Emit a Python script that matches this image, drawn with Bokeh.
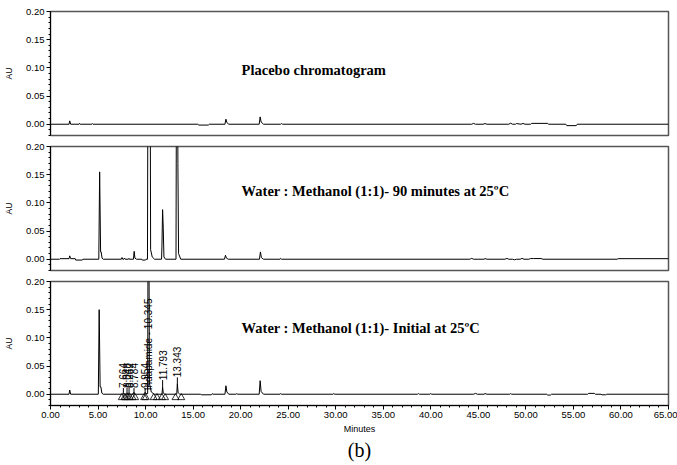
import numpy as np
from bokeh.plotting import figure
from bokeh.layouts import column
from bokeh.models import Range1d, Title, SingleIntervalTicker, NumeralTickFormatter
from bokeh.core.properties import value
from bokeh.embed import file_html
from bokeh.resources import INLINE

# ---------------- data (minutes, AU) ----------------
placebo_min = [0.0, 1.95, 2.02, 2.12, 3.00, 3.05, 3.12, 4.35, 4.40, 4.47,
               15.50, 15.60, 16.60, 16.70, 18.35, 18.45, 18.55, 18.75,
               21.95, 22.05, 22.15, 22.40, 24.20, 24.30, 24.40,
               44.30, 44.50, 44.70, 45.50, 45.70, 45.90, 48.20, 48.40, 48.60,
               48.90, 49.00, 49.50, 49.70, 49.90, 50.50, 50.60, 52.30, 52.40,
               54.20, 54.30, 55.30, 55.40, 65.0]
placebo_au = [0, 0, 0.006, 0, 0, 0.0015, 0, 0, 0.0012, 0,
              0, -0.0015, -0.0015, 0, 0, 0.009, 0.003, 0,
              0, 0.013, 0.004, 0, 0, 0.0012, 0,
              0, 0.0015, 0, 0, 0.0012, 0, 0, 0.0018, 0,
              0, 0.0012, 0, 0.0015, 0, 0, 0.0015, 0.0015, 0,
              0, -0.0025, -0.0025, 0, 0]

mw90_min = [0.0, 0.95, 1.00, 1.95, 2.02, 2.12, 2.60, 2.65, 3.35, 3.40,
            5.08, 5.17, 5.27, 5.33, 5.42, 5.55,
            7.45, 7.52, 7.60, 7.72, 7.78, 7.85, 8.20, 8.25, 8.30,
            8.72, 8.80, 8.88, 9.05, 9.60, 9.65, 10.00, 10.05,
            10.20, 10.28, 10.45, 10.53, 10.70, 10.95,
            11.68, 11.72, 11.79, 11.86, 11.93, 12.10,
            13.20, 13.27, 13.33, 13.40, 13.47, 13.70,
            18.30, 18.40, 18.50, 18.70, 21.98, 22.08, 22.18, 22.40, 24.15, 24.20, 24.30,
            44.10, 44.30, 44.50, 45.60, 45.70, 45.90, 47.80, 48.00, 48.20,
            48.60, 48.80, 49.00, 49.40, 49.60, 49.80, 50.30, 50.50, 50.80, 51.60, 51.80,
            59.60, 59.70, 65.0]
mw90_au = [0, 0, 0.001, 0.001, 0.006, 0.001, 0.001, -0.0015, -0.0015, 0,
           0, 0.155, 0.013, 0.013, 0.002, 0,
           0, 0.003, 0, 0, 0.002, 0, 0, 0.0015, 0,
           0, 0.014, 0.002, 0, 0, -0.0015, -0.0015, 0,
           0, 0.6, 0.6, 0.017, 0.004, 0,
           0, 0.022, 0.088, 0.055, 0.004, 0,
           0, 0.5, 0.5, 0.17, 0.01, 0,
           0, 0.007, 0.002, 0, 0, 0.013, 0.003, 0, 0, 0.0015, 0,
           0, 0.0015, 0, 0, 0.0012, 0, 0, 0.0015, 0,
           0, -0.001, 0, 0, 0.0015, 0, 0, 0.0012, 0.0012, 0.0012, 0,
           0, 0.001, 0.001]

initial_min = [0.0, 1.95, 2.02, 2.12,
               5.03, 5.12, 5.22, 5.30, 5.40, 5.55,
               7.60, 7.66, 7.72, 8.00, 8.05, 8.10, 8.21, 8.26, 8.31, 8.73, 8.78, 8.84, 9.90, 9.95, 10.00,
               10.22, 10.30, 10.40, 10.60, 10.90,
               11.73, 11.79, 11.86, 12.00, 13.28, 13.34, 13.42, 13.60,
               15.80, 15.85, 16.90, 17.00, 17.10, 18.35, 18.45, 18.55, 18.75,
               19.50, 19.60, 19.70, 21.95, 22.05, 22.15, 22.40, 24.15, 24.20, 24.30, 29.70, 29.80, 29.90,
               38.60, 38.70, 38.80, 39.90, 40.00, 40.10, 44.50, 44.70, 44.90, 45.60, 45.70, 45.90,
               48.30, 48.40, 48.50, 52.20, 52.30, 52.60, 52.70, 56.50, 56.60, 57.20, 57.30, 57.90,
               58.00, 58.40, 58.50, 65.0]
initial_au = [0, 0, 0.0075, 0,
              0, 0.150, 0.013, 0.013, 0.002, 0,
              0, 0.003, 0, 0, 0.003, 0, 0, 0.003, 0, 0, 0.004, 0, 0, 0.004, 0.001,
              0.001, 0.6, 0.02, 0.004, 0,
              0, 0.013, 0.002, 0, 0, 0.019, 0.003, 0,
              0, -0.001, -0.001, 0.001, 0, 0, 0.015, 0.004, 0,
              0, 0.001, 0, 0, 0.024, 0.005, 0, 0, 0.0012, 0, 0, 0.0012, 0,
              0, 0.0012, 0, 0, 0.0012, 0, 0, 0.0015, 0, 0, 0.0012, 0,
              0, 0.0012, 0, 0, -0.0015, -0.0015, 0, 0, 0.0015, 0.0015, 0, 0,
              -0.001, -0.001, 0, 0]

peak_rt = [7.664, 8.048, 8.262, 8.784, 9.954, 10.345, 11.793, 13.343]
peak_label = ["7.664", "8.048", "8.262", "8.784", "9.954",
              "Indapamide - 10.345", "11.793", "13.343"]
peak_apex = [0.003, 0.003, 0.003, 0.004, 0.004, 0.007, 0.013, 0.019]
label_base = [0.011, 0.011, 0.011, 0.011, 0.011, 0.007, 0.025, 0.030]

marker_min = [7.50, 7.78, 7.92, 8.15, 8.35, 8.62, 8.90, 9.85, 10.02,
              10.85, 11.20, 11.72, 12.05, 13.15, 13.75]

titles = ["Placebo chromatogram",
          "Water : Methanol (1:1)- 90 minutes at 25\u00baC",
          "Water : Methanol (1:1)- Initial at 25\u00baC"]
title_au = [0.096, 0.121, 0.1175]

SANS = "Liberation Sans"
SERIF = "Liberation Serif"


def make_panel(t, au, title, ty, top, bottom, show_x):
    p = figure(width=677, height=top + 124 + bottom,
               x_range=Range1d(0, 65), y_range=Range1d(-0.02, 0.20),
               output_backend="svg", toolbar_location=None,
               min_border_left=50, min_border_right=9,
               min_border_top=top, min_border_bottom=bottom,
               x_axis_location="below" if show_x else None)
    p.grid.visible = False
    p.outline_line_color = "#555555"
    p.outline_line_width = 1.5
    p.background_fill_color = "white"
    p.border_fill_color = "white"

    ya = p.yaxis[0]
    ya.ticker = SingleIntervalTicker(interval=0.05, num_minor_ticks=5)
    ya.formatter = NumeralTickFormatter(format="0.00")
    ya.axis_label = "AU"
    ya.axis_label_text_font = SANS
    ya.axis_label_text_font_size = "8.5px"
    ya.axis_label_text_font_style = "normal"
    ya.axis_label_text_color = "black"
    ya.axis_label_standoff = 9
    ya.major_label_text_font = SANS
    ya.major_label_text_font_size = "9.5px"
    ya.major_label_text_color = "black"
    ya.major_label_standoff = 2
    ya.major_tick_in = 0
    ya.major_tick_out = 4
    ya.minor_tick_in = 0
    ya.minor_tick_out = 2
    ya.axis_line_color = "black"
    ya.major_tick_line_color = "black"
    ya.minor_tick_line_color = "black"

    if show_x:
        xa = p.xaxis[0]
        xa.ticker = SingleIntervalTicker(interval=5, num_minor_ticks=5)
        xa.formatter = NumeralTickFormatter(format="0.00")
        xa.axis_label = "Minutes"
        xa.axis_label_text_font = SANS
        xa.axis_label_text_font_size = "9px"
        xa.axis_label_text_font_style = "normal"
        xa.axis_label_text_color = "black"
        xa.axis_label_standoff = 3
        xa.major_label_text_font = SANS
        xa.major_label_text_font_size = "9.5px"
        xa.major_label_text_color = "black"
        xa.major_label_standoff = 2
        xa.major_tick_in = 0
        xa.major_tick_out = 4
        xa.minor_tick_in = 0
        xa.minor_tick_out = 2
        xa.axis_line_color = "black"
        xa.major_tick_line_color = "black"
        xa.minor_tick_line_color = "black"

    p.line(t, au, line_color="black", line_width=1)
    p.text(x=[20.1], y=[ty], text=[title], text_font=value(SERIF),
           text_font_style="bold", text_font_size="14.5px",
           text_align="left", text_baseline="middle", text_color="black")
    return p


p1 = make_panel(placebo_min, placebo_au, titles[0], title_au[0], 11, 5, False)
p2 = make_panel(mw90_min, mw90_au, titles[1], title_au[1], 6, 5, False)
p3 = make_panel(initial_min, initial_au, titles[2], title_au[2], 6, 60, True)

# peak annotations on the initial chromatogram
p3.segment(x0=peak_rt, y0=peak_apex, x1=peak_rt, y1=label_base,
           line_color="black", line_width=1)
p3.text(x=peak_rt, y=label_base, text=peak_label, angle=np.pi / 2,
        text_align="left", text_baseline="middle",
        text_font=value(SANS), text_font_size="10px", text_color="black")
p3.scatter(marker_min, [-0.006] * len(marker_min), marker="triangle", size=7,
           fill_color=None, line_color="black", line_width=0.8)

p3.add_layout(Title(text="(b)", align="center", text_font=SERIF,
                    text_font_size="20px", text_font_style="normal",
                    text_color="black", standoff=0), "below")

layout = column(p1, p2, p3, spacing=0)
open("out.html", "w").write(file_html(layout, INLINE))
